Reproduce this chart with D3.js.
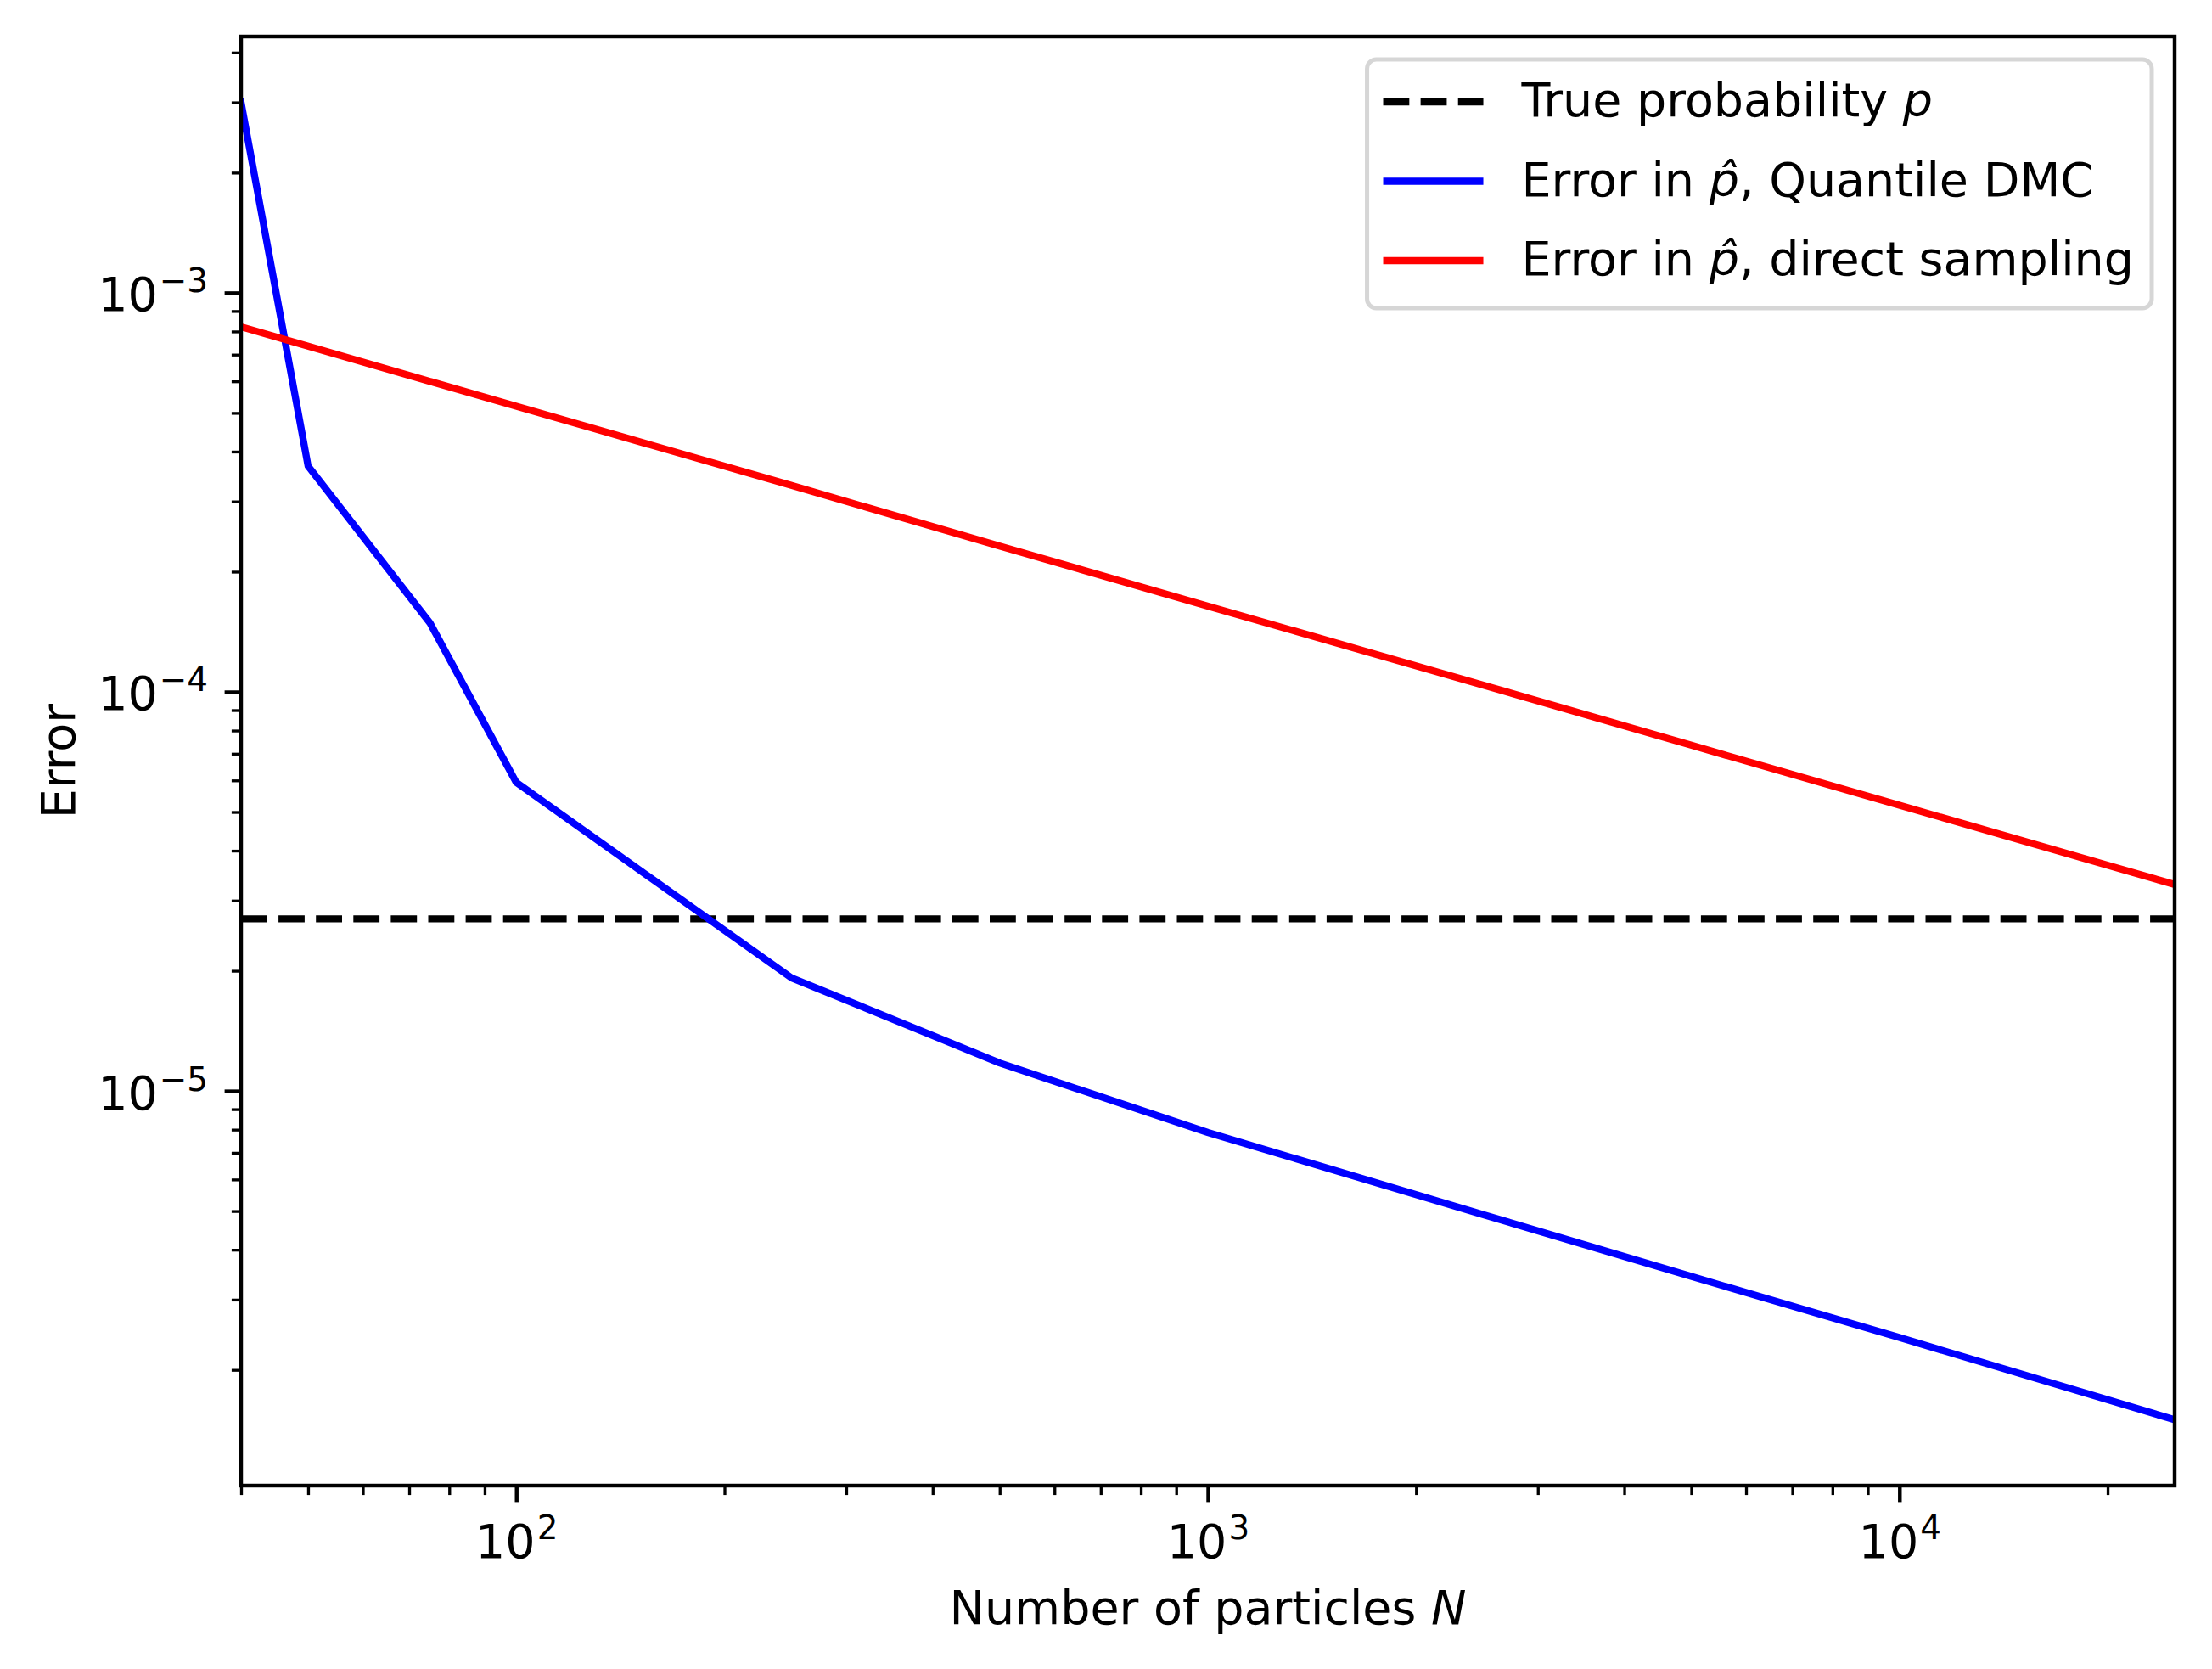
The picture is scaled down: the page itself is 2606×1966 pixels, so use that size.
<!DOCTYPE html>
<html lang="en">
<head>
<meta charset="UTF-8">
<title>Error vs number of particles</title>
<script src="https://d3js.org/d3.v7.min.js"></script>
<style>
    body {
        margin: 0;
        background: #fff;
    }

    svg {
        display: block;
    }

    svg text {
        font-family: 'DejaVu Sans', sans-serif;
    }
</style>
</head>
<body>
<svg id="chart" width="2606" height="1966"></svg>
<script>
    // number of particles N
    const particles = [40, 50, 75, 100, 250, 500, 1000, 2500, 5000, 10000, 25000];
    // error in p-hat, quantile DMC
    const errorQuantile = [3.0e-3, 3.68e-4, 1.49e-4, 5.93e-5, 1.92e-5, 1.175e-5, 7.87e-6, 4.90e-6, 3.43e-6, 2.41e-6, 1.50e-6];
    // error in p-hat, direct sampling
    const errorDirect = [8.22e-4, 7.35e-4, 6.0e-4, 5.2e-4, 3.29e-4, 2.32e-4, 1.64e-4, 1.04e-4, 7.35e-5, 5.2e-5, 3.29e-5];
    const trueProbability = 2.7e-5;

    const xMajorTicks = [1e2, 1e3, 1e4];
    const yMajorTicks = [1e-5, 1e-4, 1e-3];

    const legendItems = [
        { pre: "True probability ", it: "p", post: "" },
        { pre: "Error in ", it: "p\u0302", post: ", Quantile DMC" },
        { pre: "Error in ", it: "p\u0302", post: ", direct sampling" }
    ];

    const fontSize = 55.5;
    const supSize = 38.9;
    const lw = 8.33;

    const margin = { top: 43, right: 44, bottom: 216, left: 284 };
    const width = 2606 - margin.left - margin.right;
    const height = 1966 - margin.top - margin.bottom;

    const svg = d3.select("#chart");
    svg.append("rect").attr("width", 2606).attr("height", 1966).attr("fill", "#fff");

    const g = svg.append("g").attr("transform", `translate(${margin.left},${margin.top})`);

    const x = d3.scaleLog().domain(d3.extent(particles)).range([0, width]);

    // matplotlib style 5% padding in log space
    const allY = errorQuantile.concat(errorDirect, [trueProbability]);
    const [lo, hi] = d3.extent(allY).map(Math.log10);
    const pad = (hi - lo) * 0.05;
    const y = d3.scaleLog().domain([10 ** (lo - pad), 10 ** (hi + pad)]).range([height, 0]);

    const isMajor = d => Math.abs(Math.log10(d) - Math.round(Math.log10(d))) < 1e-9;

    g.append("clipPath").attr("id", "plot-clip")
        .append("rect").attr("width", width).attr("height", height);

    const plot = g.append("g").attr("clip-path", "url(#plot-clip)");

    // true probability, dashed
    plot.append("line")
        .attr("x1", 0).attr("x2", width)
        .attr("y1", y(trueProbability)).attr("y2", y(trueProbability))
        .attr("stroke", "#000")
        .attr("stroke-width", lw)
        .attr("stroke-dasharray", "30.8 13.3");

    const line = d3.line()
        .x(d => x(d[0]))
        .y(d => y(d[1]));

    plot.append("path")
        .datum(d3.zip(particles, errorQuantile))
        .attr("d", line)
        .attr("fill", "none")
        .attr("stroke", "#0000ff")
        .attr("stroke-width", lw)
        .attr("stroke-linejoin", "round")
        .attr("stroke-linecap", "square");

    plot.append("path")
        .datum(d3.zip(particles, errorDirect))
        .attr("d", line)
        .attr("fill", "none")
        .attr("stroke", "#ff0000")
        .attr("stroke-width", lw)
        .attr("stroke-linejoin", "round")
        .attr("stroke-linecap", "square");

    // axes: major + minor ticks
    function styleAxis(sel, w) {
        sel.attr("font-family", null).attr("font-size", null);
        sel.select(".domain").remove();
        sel.selectAll(".tick line").attr("stroke", "#000").attr("stroke-width", w);
    }

    g.append("g")
        .attr("transform", `translate(0,${height})`)
        .call(d3.axisBottom(x).tickValues(x.ticks().filter(d => !isMajor(d))).tickSize(11.1).tickFormat(""))
        .call(s => styleAxis(s, 3.33));

    const xAxis = g.append("g")
        .attr("transform", `translate(0,${height})`)
        .call(d3.axisBottom(x).tickValues(xMajorTicks).tickSize(19.4).tickFormat(""))
        .call(s => styleAxis(s, 4.44));

    g.append("g")
        .call(d3.axisLeft(y).tickValues(y.ticks().filter(d => !isMajor(d))).tickSize(11.1).tickFormat(""))
        .call(s => styleAxis(s, 3.33));

    const yAxis = g.append("g")
        .call(d3.axisLeft(y).tickValues(yMajorTicks).tickSize(19.4).tickFormat(""))
        .call(s => styleAxis(s, 4.44));

    function expLabel(sel) {
        sel.selectAll("text").remove();
        const t = sel.selectAll(".tick").append("text")
            .attr("fill", "#000")
            .attr("font-size", fontSize);
        t.append("tspan").text("10");
        t.append("tspan")
            .attr("font-size", supSize)
            .attr("dx", 2)
            .attr("dy", -22)
            .text(d => {
                const e = Math.round(Math.log10(d));
                return e < 0 ? "\u2212" + Math.abs(e) : String(e);
            });
        return t;
    }

    expLabel(xAxis).attr("y", 85).attr("text-anchor", "middle");
    expLabel(yAxis).attr("x", -38.9).attr("y", 21).attr("text-anchor", "end");

    // spines on top of lines
    g.append("rect")
        .attr("width", width).attr("height", height)
        .attr("fill", "none")
        .attr("stroke", "#000")
        .attr("stroke-width", 4.44);

    // axis labels
    const xl = g.append("text")
        .attr("x", width / 2)
        .attr("y", height + 163)
        .attr("text-anchor", "middle")
        .attr("font-size", fontSize);
    xl.append("tspan").text("Number of particles ");
    xl.append("tspan").attr("font-style", "italic").text("N");

    g.append("text")
        .attr("transform", `translate(${88 - margin.left},${height / 2}) rotate(-90)`)
        .attr("text-anchor", "middle")
        .attr("font-size", fontSize)
        .text("Error");

    // legend
    const legendStyles = [
        { color: "#000", dash: "30.8 13.3" },
        { color: "#0000ff", dash: null },
        { color: "#ff0000", dash: null }
    ];

    const legend = g.append("g");
    const frame = legend.append("rect");
    const rowGap = 93.5;
    const rows = legend.selectAll("g.row")
        .data(legendItems)
        .enter().append("g")
        .attr("class", "row")
        .attr("transform", (d, i) => `translate(0,${50 + i * rowGap})`);

    rows.append("line")
        .attr("x1", 19).attr("x2", 137)
        .attr("stroke", (d, i) => legendStyles[i].color)
        .attr("stroke-width", lw)
        .attr("stroke-dasharray", (d, i) => legendStyles[i].dash);

    const labels = rows.append("text")
        .attr("x", 182)
        .attr("y", 17)
        .attr("font-size", fontSize);
    labels.append("tspan").text(d => d.pre);
    labels.append("tspan").attr("font-style", "italic").text(d => d.it);
    labels.append("tspan").text(d => d.post);

    let maxW = 0;
    labels.each(function () { maxW = Math.max(maxW, this.getComputedTextLength()); });
    const boxW = 182 + maxW + 21;
    const boxH = 293;

    frame.attr("width", boxW).attr("height", boxH)
        .attr("rx", 11).attr("ry", 11)
        .attr("fill", "#fff").attr("fill-opacity", 0.8)
        .attr("stroke", "#cccccc").attr("stroke-opacity", 0.8)
        .attr("stroke-width", 5);

    legend.attr("transform", `translate(${width - 27 - boxW},27)`);
</script>
</body>
</html>
